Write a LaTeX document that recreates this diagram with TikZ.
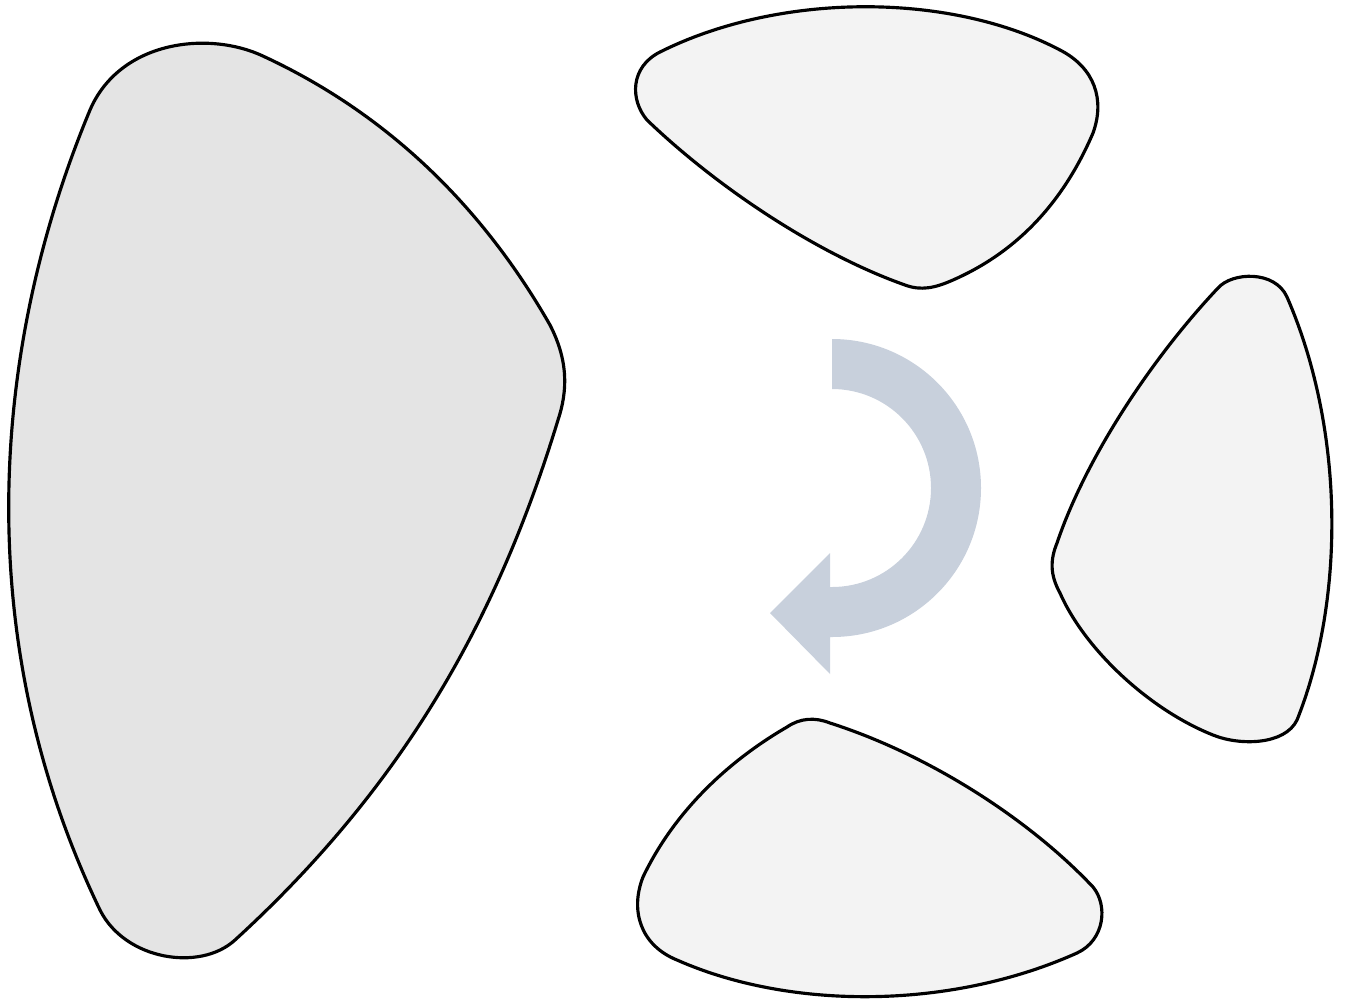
\documentclass[tikz,border=0pt]{standalone}
\usepackage{tikz}

\definecolor{bigfill}{HTML}{E4E4E4}
\definecolor{smallfill}{HTML}{F3F3F3}
\definecolor{turnfill}{HTML}{C8D0DC}

\begin{document}
\begin{tikzpicture}[x=0.02cm, y=-0.02cm,
  outline/.style={draw=black, line width=1.8pt, line join=round},
  bigpiece/.style={outline, fill=bigfill},
  smallpiece/.style={outline, fill=smallfill}]
  \useasboundingbox (0,0) rectangle (1348,1005);
  % large piece
  \draw[bigpiece] (90,110) .. controls (120,40) and (210,30) .. (265,57)
    .. controls (400,120) and (490,220) .. (550,325)
    .. controls (568,360) and (568,390) .. (558,420)
    .. controls (500,610) and (410,780) .. (235,940)
    .. controls (200,972) and (125,960) .. (100,910)
    .. controls (-30,640) and (-10,350) .. (90,110) -- cycle;
  % top piece
  \draw[smallpiece] (647,120) .. controls (630,100) and (630,67) .. (660,52)
    .. controls (780,-8) and (950,-8) .. (1060,50)
    .. controls (1095,68) and (1105,100) .. (1093,133)
    .. controls (1060,210) and (1010,255) .. (953,280)
    .. controls (935,288) and (921,291) .. (905,285)
    .. controls (820,255) and (720,190) .. (647,120) -- cycle;
  % right piece
  \draw[smallpiece] (1218,288) .. controls (1232,272) and (1275,270) .. (1287,297)
    .. controls (1345,430) and (1345,600) .. (1297,720)
    .. controls (1285,745) and (1240,746) .. (1213,735)
    .. controls (1150,710) and (1085,650) .. (1060,593)
    .. controls (1050,575) and (1050,560) .. (1057,543)
    .. controls (1085,460) and (1150,360) .. (1218,288) -- cycle;
  % bottom piece
  \draw[smallpiece] (787,727) .. controls (800,718) and (815,717) .. (830,723)
    .. controls (930,755) and (1030,820) .. (1093,887)
    .. controls (1108,905) and (1105,940) .. (1077,953)
    .. controls (950,1010) and (790,1010) .. (677,960)
    .. controls (640,945) and (630,910) .. (643,877)
    .. controls (675,810) and (730,760) .. (787,727) -- cycle;
  % turning arrow
  \fill[turnfill] (832,339) arc[start angle=-90, end angle=90, radius=149]
    -- (830,637) -- (830,674) -- (770,613) -- (830,553) -- (830,587)
    -- (832,587) arc[start angle=90, end angle=-90, radius=99] -- cycle;
\end{tikzpicture}
\end{document}
